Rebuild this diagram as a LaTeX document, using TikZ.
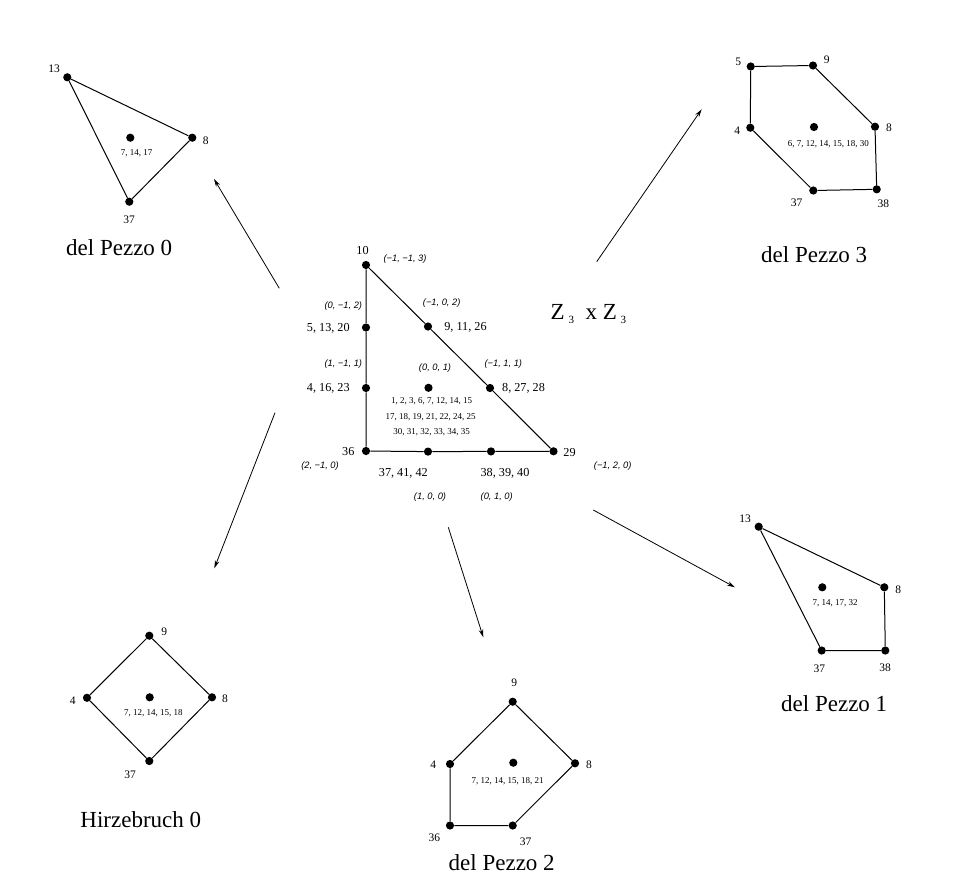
\documentclass[tikz,border=0pt]{standalone}
\usepackage{fontspec}
\setmainfont{Liberation Serif}
\newfontfamily\coordfont{Liberation Sans}
\usetikzlibrary{arrows.meta}

\tikzset{
  vdot/.style={circle, fill=black, draw=none, inner sep=0pt, minimum size=8.2pt},
  polyside/.style={line width=1pt},
  mapto/.style={line width=0.8pt, -{Stealth[length=8pt,width=4.5pt]}},
  lab/.style={inner sep=0pt, font=\fontsize{12.2}{12.2}\selectfont},
  plab/.style={inner sep=0pt, font=\fontsize{11.5}{11.5}\selectfont},
  ilab/.style={inner sep=0pt, font=\fontsize{9}{9}\selectfont},
  clab/.style={inner sep=0pt, font=\coordfont\itshape\fontsize{9.3}{9.3}\selectfont},
  surftitle/.style={inner sep=0pt, font=\fontsize{23}{23}\selectfont},
}
\newcommand{\subthree}{\raisebox{-0.45ex}{\fontsize{11}{11}\selectfont 3}}

\begin{document}
\begin{tikzpicture}[x=1pt,y=-1pt]
\useasboundingbox (0,0) rectangle (955,892);

% ---------- central toric diagram ----------
\node[vdot] (t10) at (366,265) {};
\node[vdot] (t5)  at (366,327.5) {};
\node[vdot] (t4)  at (366,388) {};
\node[vdot] (t36) at (366,451) {};
\node[vdot] (t9)  at (428,326.5) {};
\node[vdot] (t8)  at (490,388) {};
\node[vdot] (t29) at (553.5,451.3) {};
\node[vdot] (t37) at (428,451.6) {};
\node[vdot] (t38) at (491,451.4) {};
\node[vdot] (t0)  at (428.5,387.8) {};
\draw[polyside] (t10) -- (t5) -- (t4) -- (t36) -- (t37) -- (t38) -- (t29) -- (t8) -- (t9) -- (t10);

\node[lab] (l10) at (362.5,250.5) {10};
\node[lab] (l5)  at (328.3,328.3) {5, 13, 20};
\node[lab] (l4)  at (328.3,388.3) {4, 16, 23};
\node[lab] (l36) at (348.3,451.3) {36};
\node[lab] (l9)  at (465.5,327.5) {9, 11, 26};
\node[lab] (l8)  at (523.5,388.3) {8, 27, 28};
\node[lab] (l29) at (569.5,452.3) {29};
\node[lab] (l37) at (403.3,473.3) {37, 41, 42};
\node[lab] (l38) at (505,473.3) {38, 39, 40};
\node[ilab] (l0a) at (431.7,401) {1, 2, 3, 6, 7, 12, 14, 15};
\node[ilab] (l0b) at (430.7,416.7) {17, 18, 19, 21, 22, 24, 25};
\node[ilab] (l0c) at (431.7,432.3) {30, 31, 32, 33, 34, 35};

\node[clab] (c10) at (405,259) {(−1, −1, 3)};
\node[clab] (c5)  at (343.3,306) {(0, −1, 2)};
\node[clab] (c9)  at (441.7,302.7) {(−1, 0, 2)};
\node[clab] (c4)  at (343.3,364.3) {(1, −1, 1)};
\node[clab] (c0)  at (435,367.7) {(0, 0, 1)};
\node[clab] (c8)  at (503.3,364.3) {(−1, 1, 1)};
\node[clab] (c36) at (320,466) {(2, −1, 0)};
\node[clab] (c29) at (612.7,466) {(−1, 2, 0)};
\node[clab] (c37) at (430,496.7) {(1, 0, 0)};
\node[clab] (c38) at (496.7,496.7) {(0, 1, 0)};

\node[surftitle, anchor=west] (orb) at (550.5,314) {Z\,\subthree\ \ x\ Z\,\subthree};

% ---------- del Pezzo 0 ----------
\node[vdot] (a13) at (67.3,77.3) {};
\node[vdot] (a8)  at (192.3,137.7) {};
\node[vdot] (a37) at (129.3,201.7) {};
\node[vdot] (a0)  at (130.3,137.7) {};
\draw[polyside] (a13) -- (a8) -- (a37) -- (a13);
\node[plab] (al13) at (54,68.3) {13};
\node[plab] (al8)  at (205.7,140.7) {8};
\node[plab] (al37) at (129,219.3) {37};
\node[ilab] (al0)  at (136.7,153.3) {7, 14, 17};
\node[surftitle] (dp0) at (119.2,247.5) {del Pezzo 0};

% ---------- del Pezzo 3 ----------
\node[vdot] (b5)  at (750.7,66.5) {};
\node[vdot] (b9)  at (813,65.5) {};
\node[vdot] (b8)  at (875,126.7) {};
\node[vdot] (b38) at (876.7,189.3) {};
\node[vdot] (b37) at (813.3,190.5) {};
\node[vdot] (b4)  at (750.3,127.7) {};
\node[vdot] (b0)  at (814,127) {};
\draw[polyside] (b5) -- (b9) -- (b8) -- (b38) -- (b37) -- (b4) -- (b5);
\node[plab] (bl5)  at (738.3,61.7) {5};
\node[plab] (bl9)  at (826.7,60) {9};
\node[plab] (bl8)  at (889,127.3) {8};
\node[plab] (bl4)  at (737.3,130.7) {4};
\node[plab] (bl37) at (796.7,202.7) {37};
\node[plab] (bl38) at (883.3,203.3) {38};
\node[ilab] (bl0)  at (828.3,144.3) {6, 7, 12, 14, 15, 18, 30};
\node[surftitle] (dp3) at (814.2,254.5) {del Pezzo 3};

% ---------- del Pezzo 1 ----------
\node[vdot] (c13x) at (758.7,526.7) {};
\node[vdot] (c8x)  at (884.3,587.3) {};
\node[vdot] (c38x) at (885.3,650.5) {};
\node[vdot] (c37x) at (821.7,650.5) {};
\node[vdot] (c0x)  at (822.3,587.3) {};
\draw[polyside] (c13x) -- (c8x) -- (c38x) -- (c37x) -- (c13x);
\node[plab] (cl13) at (745,518.3) {13};
\node[plab] (cl8)  at (898.3,589.3) {8};
\node[plab] (cl37) at (819.3,668.7) {37};
\node[plab] (cl38) at (885,667.3) {38};
\node[ilab] (cl0)  at (835,603.3) {7, 14, 17, 32};
\node[surftitle] (dp1) at (834.2,704) {del Pezzo 1};

% ---------- del Pezzo 2 ----------
\node[vdot] (d9)  at (512.7,701.7) {};
\node[vdot] (d8)  at (575,763.3) {};
\node[vdot] (d37) at (512.7,825.5) {};
\node[vdot] (d36) at (450,825.5) {};
\node[vdot] (d4)  at (450,764) {};
\node[vdot] (d0)  at (513.3,762.7) {};
\draw[polyside] (d9) -- (d8) -- (d37) -- (d36) -- (d4) -- (d9);
\node[plab] (dl9)  at (514.3,682.7) {9};
\node[plab] (dl8)  at (589,764.3) {8};
\node[plab] (dl4)  at (433.3,765) {4};
\node[plab] (dl36) at (434.3,837.7) {36};
\node[plab] (dl37) at (525.7,841.7) {37};
\node[ilab] (dl0)  at (507.7,781) {7, 12, 14, 15, 18, 21};
\node[surftitle] (dp2) at (501.7,863) {del Pezzo 2};

% ---------- Hirzebruch 0 ----------
\node[vdot] (e9)  at (149.3,635.7) {};
\node[vdot] (e8)  at (212,697.3) {};
\node[vdot] (e37) at (149.3,761) {};
\node[vdot] (e4)  at (87,697.8) {};
\node[vdot] (e0)  at (149.7,697.3) {};
\draw[polyside] (e9) -- (e8) -- (e37) -- (e4) -- (e9);
\node[plab] (el9)  at (164.3,631.7) {9};
\node[plab] (el8)  at (225,699) {8};
\node[plab] (el4)  at (72.7,701) {4};
\node[plab] (el37) at (130,775) {37};
\node[ilab] (el0)  at (153.3,713.3) {7, 12, 14, 15, 18};
\node[surftitle] (h0) at (140.8,820) {Hirzebruch 0};

% ---------- blow-down maps ----------
\coordinate (s0) at (279.3,288.3);  \coordinate (e0t) at (214,179);
\coordinate (s3) at (596.7,261.7);  \coordinate (e3t) at (701.7,109.3);
\coordinate (sh) at (275,412.7);    \coordinate (eht) at (214.3,568.3);
\coordinate (s2) at (448.3,527.3);  \coordinate (e2t) at (483.3,637.3);
\coordinate (s1) at (593.3,510);    \coordinate (e1t) at (735,587.3);
\draw[mapto] (s0) -- (e0t);
\draw[mapto] (s3) -- (e3t);
\draw[mapto] (sh) -- (eht);
\draw[mapto] (s2) -- (e2t);
\draw[mapto] (s1) -- (e1t);
\end{tikzpicture}
\end{document}
